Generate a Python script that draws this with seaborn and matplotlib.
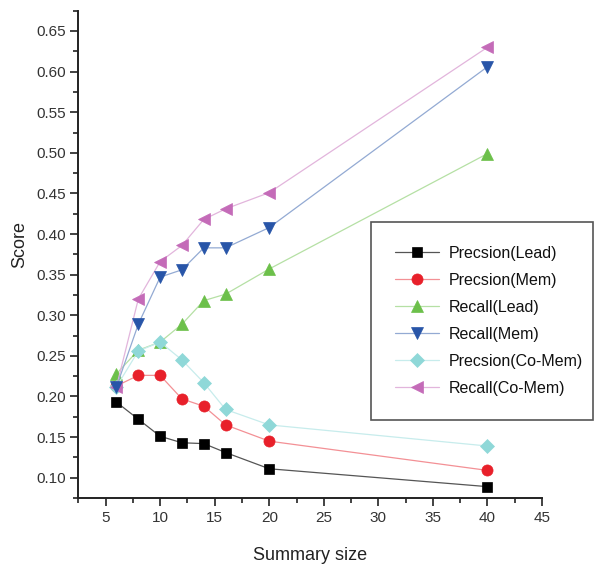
import matplotlib
matplotlib.use("Agg")
import matplotlib.pyplot as plt
import matplotlib.colors as mcolors
from matplotlib.ticker import MultipleLocator, FormatStrFormatter
import numpy as np
import pandas as pd
import seaborn as sns

# ---- data ----
summary_size = [6, 8, 10, 12, 14, 16, 20, 40]
precision_lead = [0.193, 0.172, 0.151, 0.143, 0.142, 0.131, 0.111, 0.089]
precision_mem = [0.213, 0.226, 0.226, 0.197, 0.188, 0.165, 0.145, 0.109]
recall_lead = [0.228, 0.257, 0.267, 0.289, 0.318, 0.326, 0.357, 0.499]
recall_mem = [0.212, 0.289, 0.347, 0.356, 0.383, 0.383, 0.408, 0.606]
precision_comem = [0.212, 0.256, 0.267, 0.245, 0.217, 0.184, 0.165, 0.139]
recall_comem = [0.212, 0.320, 0.366, 0.386, 0.418, 0.431, 0.451, 0.630]

series_names = ["Precsion(Lead)", "Precsion(Mem)", "Recall(Lead)",
                "Recall(Mem)", "Precsion(Co-Mem)", "Recall(Co-Mem)"]
series_values = [precision_lead, precision_mem, recall_lead,
                 recall_mem, precision_comem, recall_comem]
colors = ["#000000", "#e8202a", "#6cc04a", "#2855a8", "#8fd8d8", "#c46bb8"]
marker_shapes = ["s", "o", "^", "v", "D", "<"]
marker_sizes = [7, 8, 9, 9, 7.5, 9]
draw_order = [1, 2, 3, 6, 4, 5]

rows = []
for name, vals in zip(series_names, series_values):
    for xv, yv in zip(summary_size, vals):
        rows.append({"Summary size": xv, "Score": yv, "series": name})
df = pd.DataFrame(rows)

sns.set_style("ticks")
plt.rcParams["font.family"] = ["Liberation Sans", "DejaVu Sans"]

fig = plt.figure(figsize=(5.95, 5.75), dpi=100)
ax = fig.add_axes([0.1316, 0.1339, 0.911 - 0.1316, 0.9814 - 0.1339])

sns.lineplot(data=df, x="Summary size", y="Score", hue="series", style="series",
             hue_order=series_names, style_order=series_names,
             palette=dict(zip(series_names, colors)),
             markers=dict(zip(series_names, marker_shapes)),
             dashes=False, linewidth=0.9, markersize=8, ax=ax, legend="full")

def lighten(c, amt=0.5):
    r, g, b = mcolors.to_rgb(c)
    return (r + (1 - r) * amt, g + (1 - g) * amt, b + (1 - b) * amt)

def style_line(line, i):
    c = colors[i]
    line.set_markerfacecolor(c)
    line.set_markeredgecolor(c)
    line.set_markersize(marker_sizes[i])
    line.set_markeredgewidth(0.5)
    line.set_color(lighten(c) if i != 0 else "#555555")

data_lines = [l for l in ax.lines if len(l.get_xdata()) == len(summary_size)]
for i, line in enumerate(data_lines[:6]):
    style_line(line, i)
    line.set_zorder(3 + draw_order[i])

old = ax.get_legend()
handles = list(old.legend_handles)
labels = [t.get_text() for t in old.texts]
old.remove()
for i, h in enumerate(handles):
    style_line(h, i)

leg = ax.legend(handles, labels, loc="upper left",
                bbox_to_anchor=(0.6235, 0.273, 0.3735, 0.341),
                bbox_transform=fig.transFigure, mode="expand",
                fontsize=11.5, frameon=True, fancybox=False, shadow=False,
                borderpad=1.5, labelspacing=0.75, handlelength=2.75,
                handletextpad=0.6, borderaxespad=0)
leg.get_frame().set_edgecolor("#555555")
leg.get_frame().set_linewidth(1.2)
leg.get_frame().set_facecolor("white")
leg.get_frame().set_alpha(1)
for t in leg.get_texts():
    t.set_color("#111111")

ax.set_xlim(2.5, 45)
ax.set_ylim(0.075, 0.675)
ax.xaxis.set_minor_locator(MultipleLocator(2.5))
ax.yaxis.set_minor_locator(MultipleLocator(0.025))
ax.yaxis.set_major_formatter(FormatStrFormatter("%.2f"))
ax.set_xticks([5, 10, 15, 20, 25, 30, 35, 40, 45])
ax.set_yticks([0.10, 0.15, 0.20, 0.25, 0.30, 0.35, 0.40, 0.45, 0.50, 0.55, 0.60, 0.65])

ax.tick_params(axis="both", which="major", direction="out", length=6, width=1.2,
               labelsize=11, colors="#222222", labelcolor="#333333", pad=3)
ax.tick_params(axis="both", which="minor", direction="out", length=3.5, width=1.2,
               colors="#222222")
for s in ["left", "bottom"]:
    ax.spines[s].set_linewidth(1.4)
    ax.spines[s].set_color("#222222")
sns.despine(ax=ax)

ax.set_xlabel("Summary size", fontsize=13, color="#222222", labelpad=16)
ax.set_ylabel("Score", fontsize=13, color="#222222")
ax.yaxis.set_label_coords(-0.108, 0.52)

fig.savefig("out.png", dpi=100)
